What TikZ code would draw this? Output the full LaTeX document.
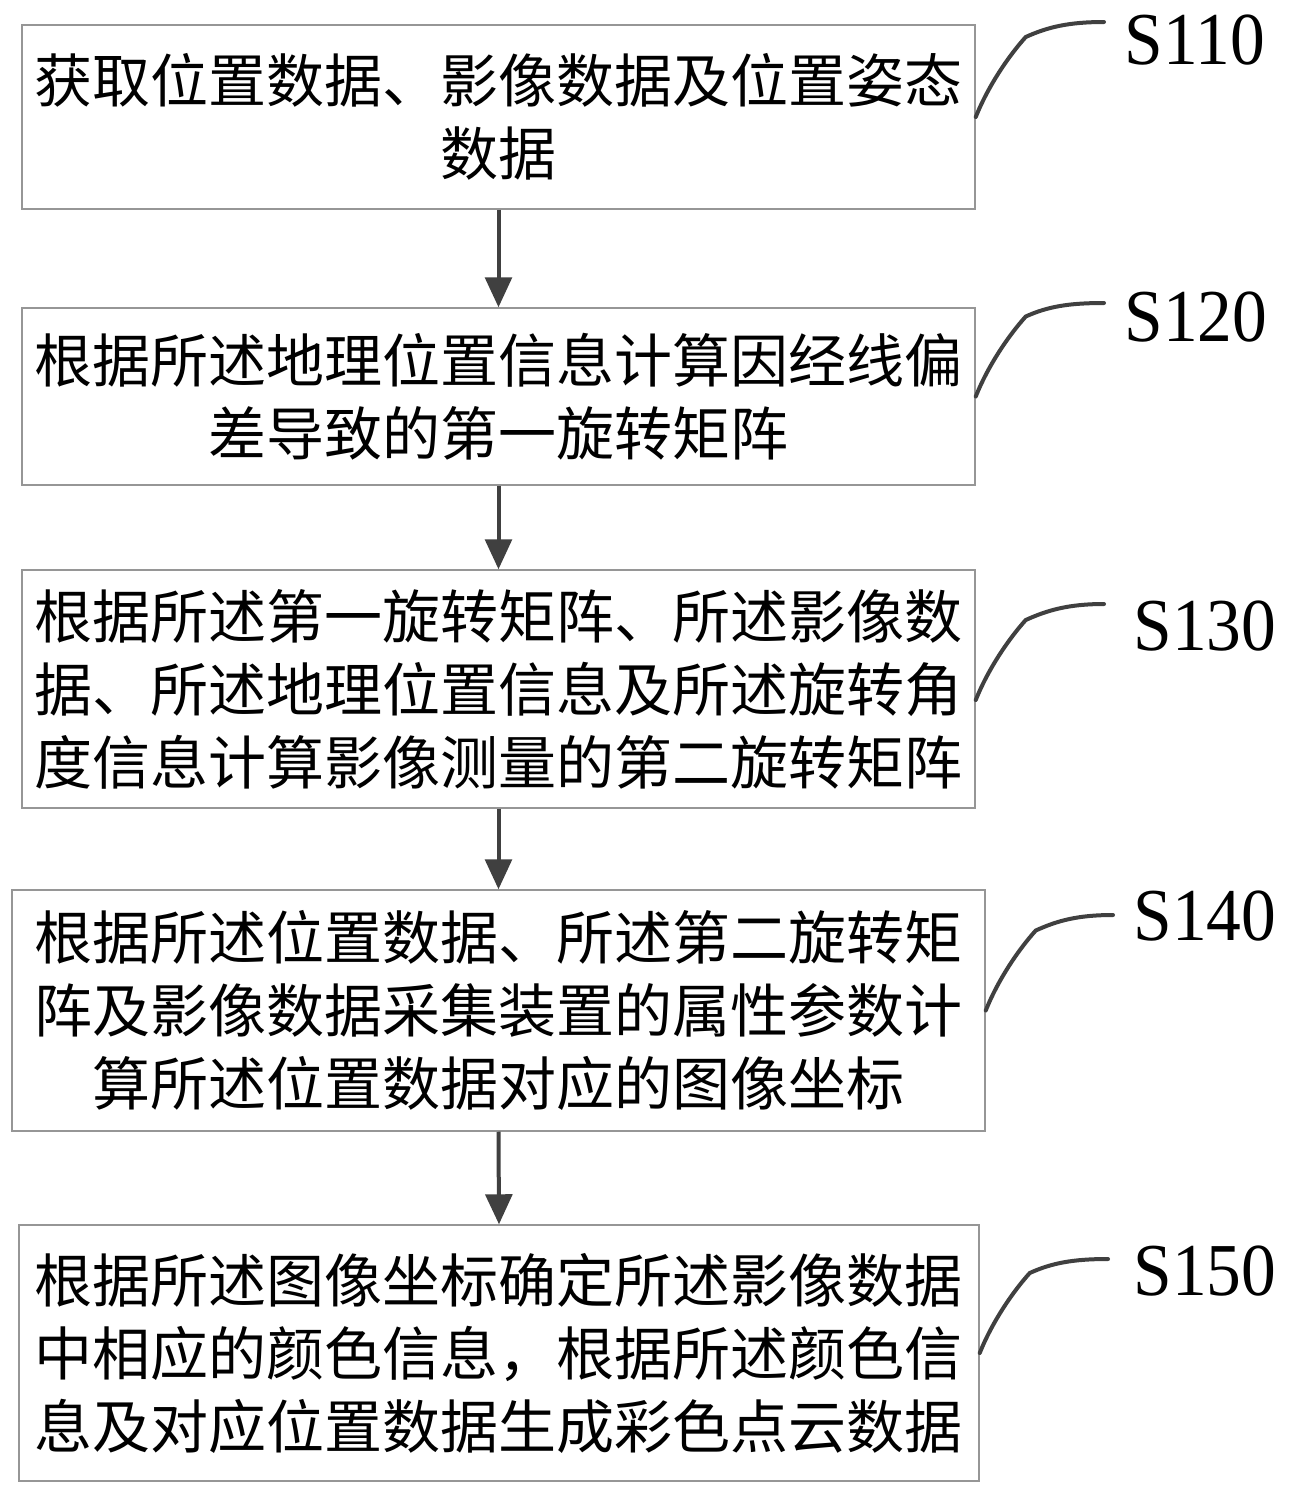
\documentclass[tikz,border=0pt]{standalone}
\usepackage{fontspec}
\setmainfont{Liberation Serif}
\newfontfamily\cjk{Noto Sans CJK SC}
\usetikzlibrary{arrows.meta,calc}
\definecolor{boxgray}{RGB}{150,150,150}
\definecolor{linegray}{RGB}{64,64,64}
\begin{document}
\begin{tikzpicture}[x=0.75pt,y=-0.75pt,
  stepbox/.style={draw=boxgray,line width=1.1pt,inner sep=0pt,align=center,
    font=\cjk\fontsize{43.5pt}{54.75pt}\selectfont},
  flow/.style={draw=linegray,line width=3pt,-{Triangle[length=22.5pt,width=20pt]}},
  lead/.style={draw=linegray,line width=3pt,line cap=round},
  lab/.style={inner sep=0pt,font=\fontsize{56pt}{60pt}\selectfont}]
\useasboundingbox[fill=white] (0,0) rectangle (1291,1497);

\node[stepbox,minimum width=714.75pt,minimum height=138pt] (b1) at (498.5,117)
  {获取位置数据、影像数据及位置姿态\\数据};
\node[stepbox,minimum width=714.75pt,minimum height=132.75pt] (b2) at (498.5,396.5)
  {根据所述地理位置信息计算因经线偏\\差导致的第一旋转矩阵};
\node[stepbox,minimum width=714.75pt,minimum height=178.5pt] (b3) at (498.5,689)
  {根据所述第一旋转矩阵、所述影像数\\据、所述地理位置信息及所述旋转角\\度信息计算影像测量的第二旋转矩阵};
\node[stepbox,minimum width=729.75pt,minimum height=180.75pt] (b4) at (498.5,1010.5)
  {根据所述位置数据、所述第二旋转矩\\阵及影像数据采集装置的属性参数计\\算所述位置数据对应的图像坐标};
\node[stepbox,minimum width=720pt,minimum height=192pt] (b5) at (499,1353)
  {根据所述图像坐标确定所述影像数据\\中相应的颜色信息，根据所述颜色信\\息及对应位置数据生成彩色点云数据};

\draw[flow] (b1.south) -- (b2.north);
\draw[flow] (b2.south) -- (b3.north);
\draw[flow] (b3.south) -- (b4.north);
\draw[flow] (b4.south) -- (b5.north);

\node[lab] (l1) at (1195,40) {\scalebox{0.93}[1]{S110}};
\node[lab] (l2) at (1196,317) {\scalebox{0.93}[1]{S120}};
\node[lab] (l3) at (1205,626) {\scalebox{0.93}[1]{S130}};
\node[lab] (l4) at (1205,916) {\scalebox{0.93}[1]{S140}};
\node[lab] (l5) at (1205,1271) {\scalebox{0.93}[1]{S150}};

\coordinate (s1) at (b1.east);
\coordinate (s2) at (b2.east);
\coordinate (s3) at ($(b3.east)+(0,11)$);
\coordinate (s4) at (b4.east);
\coordinate (s5) at (b5.east);
\coordinate (e1) at (1104,22);
\coordinate (e2) at (1104,303);
\coordinate (e3) at (1104,604);
\coordinate (e4) at (1113,915);
\coordinate (e5) at (1108,1259);

\foreach \i in {1,...,5}{
  \draw[lead] (s\i) .. controls ($(s\i)+(12,-30)$) and ($(s\i)+(32,-60)$) ..
    ($(s\i)+(50,-80)$) .. controls ($(s\i)+(72,-90)$) and ($(e\i)+(-35,0)$) .. (e\i);
}
\end{tikzpicture}
\end{document}
